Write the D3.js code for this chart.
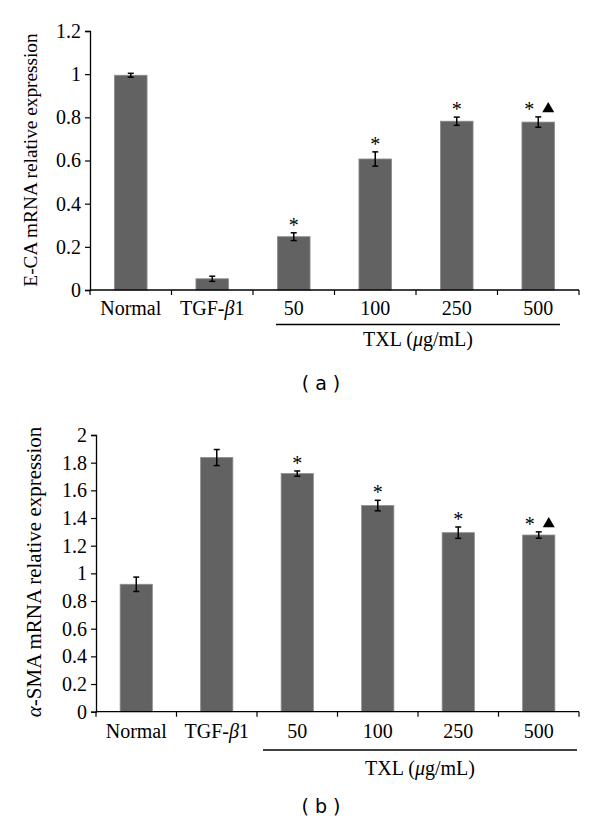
<!DOCTYPE html>
<html>
<head>
<meta charset="utf-8">
<script src="https://cdn.jsdelivr.net/npm/d3@7"></script>
<style>
  html, body { margin: 0; padding: 0; background: #fff; }
  svg { display: block; }
</style>
</head>
<body>
<svg id="chart" width="600" height="830"></svg>
<script>
// ---------- DATA ----------
const categories = ["Normal", "TGF-β1", "50", "100", "250", "500"];
const ecaValues = [0.995, 0.052, 0.247, 0.607, 0.782, 0.778];
const ecaErrors = [0.009, 0.012, 0.018, 0.033, 0.019, 0.024];
const smaValues = [0.921, 1.837, 1.721, 1.490, 1.294, 1.277];
const smaErrors = [0.052, 0.058, 0.019, 0.038, 0.041, 0.023];
const starFlags = [false, false, true, true, true, true];
const triangleFlags = [false, false, false, false, false, true];
const ticksA = [0, 0.2, 0.4, 0.6, 0.8, 1, 1.2];
const ticksB = [0, 0.2, 0.4, 0.6, 0.8, 1, 1.2, 1.4, 1.6, 1.8, 2];
const groupLabel = "TXL";
const groupUnit = "μg/mL";
const panelLabels = ["( a )", "( b )"];

// ---------- DRAW ----------
const svg = d3.select("#chart");
const SERIF = "'Liberation Serif', 'Times New Roman', serif";
const BAR_FILL = "#626262";

function panel(cfg) {
  const g = svg.append("g");
  const x = d3.scaleBand().domain(categories).range([cfg.left, cfg.right]).padding(0);
  const y = d3.scaleLinear().domain([0, cfg.max]).range([cfg.bottom, cfg.top]);
  const bw = x.bandwidth() * 0.4;

  // bars
  g.selectAll("rect.bar").data(cfg.values).enter().append("rect")
    .attr("x", (d, i) => x(categories[i]) + (x.bandwidth() - bw) / 2)
    .attr("y", d => y(d))
    .attr("width", bw)
    .attr("height", d => y(0) - y(d))
    .attr("fill", BAR_FILL)
    .attr("stroke", "#8c8c8c")
    .attr("stroke-width", 0.8);

  // error bars
  const cap = 3;
  cfg.values.forEach((v, i) => {
    const cx = x(categories[i]) + x.bandwidth() / 2;
    const e = cfg.errors[i];
    const eg = g.append("g").attr("stroke", "#000").attr("stroke-width", 1.5);
    eg.append("line").attr("x1", cx).attr("x2", cx).attr("y1", y(v - e)).attr("y2", y(v + e));
    eg.append("line").attr("x1", cx - cap).attr("x2", cx + cap).attr("y1", y(v - e)).attr("y2", y(v - e));
    eg.append("line").attr("x1", cx - cap).attr("x2", cx + cap).attr("y1", y(v + e)).attr("y2", y(v + e));
    const top = y(v + e);
    if (starFlags[i]) {
      const sx = triangleFlags[i] ? cx - 9 : cx;
      g.append("text").attr("x", sx).attr("y", top - 1)
        .attr("text-anchor", "middle").attr("font-family", SERIF)
        .attr("font-size", 20).attr("fill", "#000").text("*");
    }
    if (triangleFlags[i]) {
      g.append("path")
        .attr("d", d3.symbol().type(d3.symbolTriangle).size(62)())
        .attr("transform", `translate(${cx + 10},${top - 8})`)
        .attr("fill", "#000");
    }
  });

  // y axis
  const yAxis = d3.axisLeft(y).tickValues(cfg.ticks)
    .tickFormat(d => String(+d.toFixed(1))).tickSizeOuter(0).tickSize(5).tickPadding(4);
  const ya = g.append("g").attr("transform", `translate(${cfg.left},0)`).call(yAxis);
  ya.select(".domain").attr("stroke", "#000").attr("stroke-width", 1.3);
  ya.selectAll(".tick line").attr("stroke", "#000").attr("stroke-width", 1.2);
  ya.selectAll(".tick text").attr("font-family", SERIF).attr("font-size", cfg.tickFont).attr("fill", "#000");

  // x axis line with boundary ticks
  g.append("line").attr("x1", cfg.left).attr("x2", cfg.right)
    .attr("y1", y(0)).attr("y2", y(0)).attr("stroke", "#000").attr("stroke-width", 1.3);
  const bounds = categories.map(c => x(c) + x.bandwidth()).concat([cfg.left]);
  g.selectAll("line.xt").data(bounds).enter().append("line")
    .attr("x1", d => d).attr("x2", d => d)
    .attr("y1", y(0)).attr("y2", y(0) + 5)
    .attr("stroke", "#000").attr("stroke-width", 1.2);

  // category labels
  categories.forEach((c, i) => {
    const t = g.append("text")
      .attr("x", x(c) + x.bandwidth() / 2).attr("y", y(0) + cfg.catOffset)
      .attr("text-anchor", "middle").attr("font-family", SERIF)
      .attr("font-size", cfg.tickFont).attr("fill", "#000");
    if (c.includes("β")) {
      const parts = c.split("β");
      t.append("tspan").text(parts[0]);
      t.append("tspan").attr("font-style", "italic").text("β");
      t.append("tspan").text(parts[1]);
    } else {
      t.text(c);
    }
  });

  // group line + label
  g.append("line").attr("x1", cfg.groupX0).attr("x2", cfg.groupX1)
    .attr("y1", cfg.groupLineY).attr("y2", cfg.groupLineY)
    .attr("stroke", "#000").attr("stroke-width", 1.3);
  const gt = g.append("text").attr("x", (cfg.groupX0 + cfg.groupX1) / 2)
    .attr("y", cfg.groupTextY).attr("text-anchor", "middle")
    .attr("font-family", SERIF).attr("font-size", cfg.tickFont).attr("fill", "#000");
  gt.append("tspan").text(groupLabel + " (");
  gt.append("tspan").attr("font-style", "italic").text(groupUnit.slice(0, 1));
  gt.append("tspan").text(groupUnit.slice(1) + ")");

  // y label
  const yl = g.append("text")
    .attr("transform", `translate(${cfg.ylabelX},${(cfg.ylabelY)}) rotate(-90)`)
    .attr("text-anchor", "middle").attr("font-family", SERIF)
    .attr("font-size", cfg.ylabelFont).attr("fill", "#000");
  cfg.ylabelParts.forEach(p => {
    const ts = yl.append("tspan").text(p.t);
    if (p.i) ts.attr("font-style", "italic");
  });

  // panel label
  g.append("text").attr("x", 321).attr("y", cfg.panelY)
    .attr("text-anchor", "middle").attr("font-family", "'DejaVu Sans', sans-serif")
    .attr("font-size", 19).attr("fill", "#000")
    .attr("xml:space", "preserve").text(cfg.panelLabel);
}

panel({
  values: ecaValues, errors: ecaErrors, ticks: ticksA, max: 1.2,
  left: 90, right: 579, top: 31, bottom: 290,
  tickFont: 20, catOffset: 25,
  groupX0: 276, groupX1: 560, groupLineY: 324.5, groupTextY: 346,
  ylabelX: 37, ylabelY: 160, ylabelFont: 19.3,
  ylabelParts: [{t: "E-CA mRNA relative expression"}],
  panelY: 390, panelLabel: panelLabels[0]
});

panel({
  values: smaValues, errors: smaErrors, ticks: ticksB, max: 2,
  left: 96, right: 579, top: 435, bottom: 711.7,
  tickFont: 20, catOffset: 26,
  groupX0: 263, groupX1: 577, groupLineY: 750, groupTextY: 775,
  ylabelX: 41, ylabelY: 572, ylabelFont: 21,
  ylabelParts: [{t: "α", i: true}, {t: "-SMA mRNA relative expression"}],
  panelY: 813, panelLabel: panelLabels[1]
});
</script>
</body>
</html>
